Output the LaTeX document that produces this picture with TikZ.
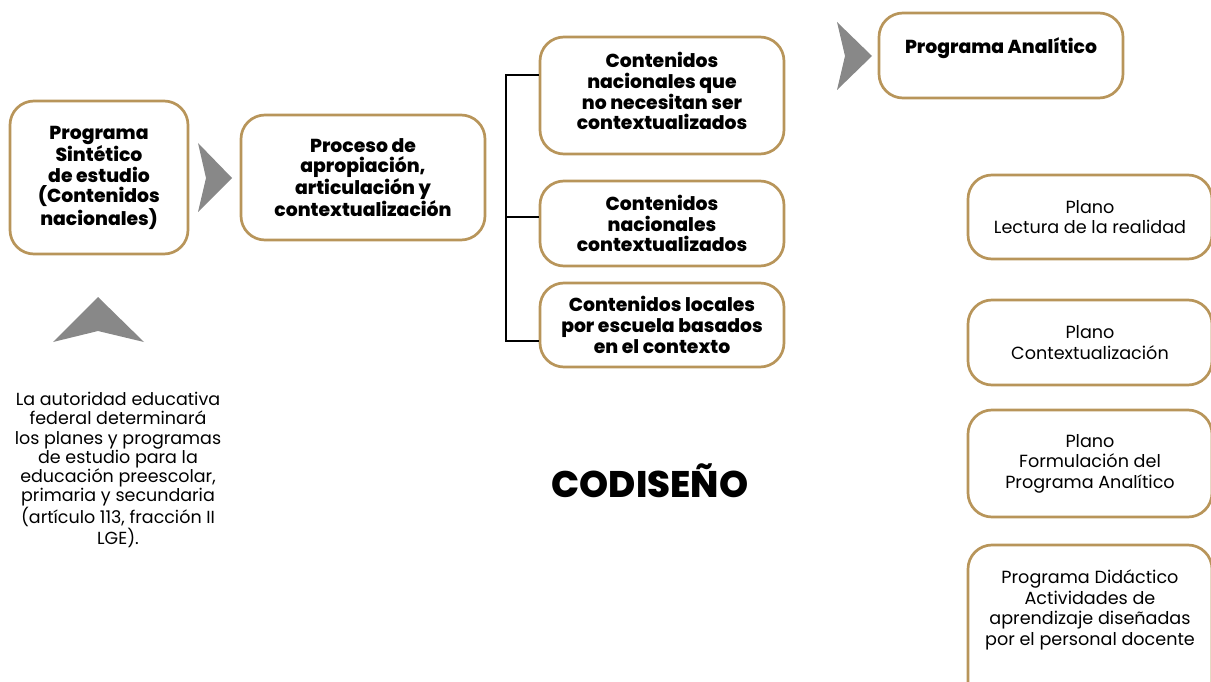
\documentclass[tikz,border=0pt]{standalone}
\usepackage{fontspec}
\setmainfont{Poppins}[BoldFont={Poppins ExtraBold}]
\definecolor{gold}{HTML}{B8955A}
\definecolor{chev}{HTML}{888888}
\tikzset{
  box/.style={draw=gold, line width=2.7pt, rounded corners=24pt, fill=white, align=center, inner sep=0pt},
  bt/.style={font=\bfseries\fontsize{18.8}{20.8}\selectfont},
  rt/.style={font=\fontsize{17.6}{20.5}\selectfont},
  chevron/.style={fill=chev, draw=none},
  brk/.style={draw=black, line width=2.7pt}
}
\begin{document}
\begin{tikzpicture}[x=1pt,y=-1pt]
\useasboundingbox (0,0) rectangle (1211,682);
\clip (0,0) rectangle (1211,682);
% boxes
\node[box,bt,minimum width=178pt,minimum height=153pt] (sint) at (99,177.5) {Programa\\Sintético\\de estudio\\(Contenidos\\nacionales)};
\node[box,bt,minimum width=244pt,minimum height=125pt] (proc) at (363,177.5) {Proceso de\\apropiación,\\articulación y\\contextualización};
\node[box,bt,minimum width=244pt,minimum height=117pt,text depth=9pt] (c1) at (662,95.5) {Contenidos\\nacionales que\\no necesitan ser\\contextualizados};
\node[box,bt,minimum width=244pt,minimum height=85pt] (c2) at (662,223.5) {Contenidos\\nacionales\\contextualizados};
\node[box,bt,minimum width=244pt,minimum height=84pt] (c3) at (662,325) {Contenidos locales\\por escuela basados\\en el contexto};
\node[box,bt,minimum width=244pt,minimum height=85pt,text depth=20pt] (pa) at (1001,55.5) {Programa Analítico};
\node[box,rt,minimum width=244pt,minimum height=84pt] (p1) at (1090,217) {Plano\\Lectura de la realidad};
\node[box,rt,minimum width=244pt,minimum height=85pt] (p2) at (1090,342.5) {Plano\\Contextualización};
\node[box,rt,minimum width=244pt,minimum height=107pt] (p3) at (1090,463.5) {Plano\\Formulación del\\Programa Analítico};
\node[box,rt,minimum width=244pt,minimum height=160pt] (pd) at (1090,625) {};
\node[rt,align=center] (pdt) at (1090,610) {Programa Didáctico\\Actividades de\\aprendizaje diseñadas\\por el personal docente};
% text
\node[font=\fontsize{17.5}{19.2}\selectfont,align=center] (law) at (118,470) {La autoridad educativa\\federal determinará\\los planes y programas\\de estudio para la\\educación preescolar,\\primaria y secundaria\\(artículo 113, fracción II\\LGE).};
\node[font=\bfseries\fontsize{37}{40}\selectfont] (cod) at (650,481) {CODISEÑO};
% chevrons
\fill[chevron] (198,143) -- (232,178) -- (198,212) -- (206,178) -- cycle;
\fill[chevron] (837,22) -- (872,56) -- (837,90) -- (845,56) -- cycle;
\fill[chevron] (98,297) -- (144,342) -- (98,331) -- (53,342) -- cycle;
% bracket
\coordinate (bt) at (506,75);
\coordinate (bb) at (506,341);
\draw[brk] (c1.west |- bt) -- (bt) -- (bb) -- (c3.west |- bb);
\draw[brk] (506,217) -- (c2.west |- 0,217);
\end{tikzpicture}
\end{document}
